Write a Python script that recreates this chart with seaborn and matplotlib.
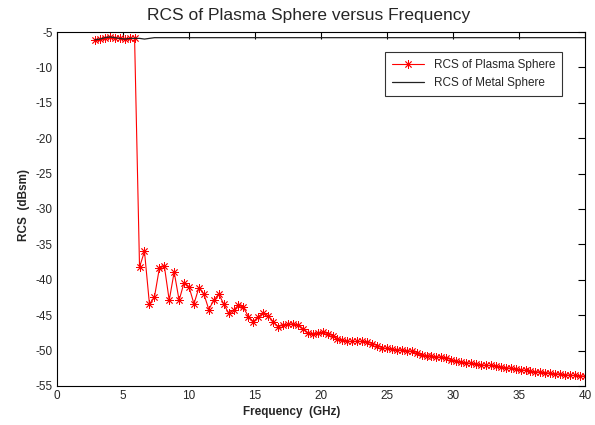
import numpy as np
import pandas as pd
import matplotlib
matplotlib.use("Agg")
import matplotlib.pyplot as plt
import seaborn as sns

# ---- data ----
frequency_ghz = np.linspace(2.9, 40.0, 100)

rcs_plasma = [
    -6.1, -6.0, -5.8, -5.7, -5.8, -5.9, -6.0, -5.9, -5.9, -38.2,
    -36.0, -43.4, -42.5, -38.4, -38.0, -42.9, -38.9, -42.9, -40.4, -41.0,
    -43.4, -41.1, -42.0, -44.2, -42.9, -42.0, -43.4, -44.7, -44.3, -43.6,
    -43.9, -45.2, -45.9, -45.2, -44.7, -45.1, -45.9, -46.6, -46.4, -46.3,
    -46.2, -46.4, -46.9, -47.5, -47.6, -47.5, -47.4, -47.6, -47.9, -48.3,
    -48.5, -48.7, -48.7, -48.7, -48.7, -48.8, -49.0, -49.3, -49.6, -49.7,
    -49.8, -49.9, -49.9, -50.0, -50.1, -50.4, -50.6, -50.7, -50.8, -50.9,
    -50.9, -51.0, -51.3, -51.5, -51.6, -51.7, -51.8, -51.9, -52.0, -52.1,
    -52.1, -52.2, -52.3, -52.4, -52.5, -52.6, -52.7, -52.8, -52.9, -53.0,
    -53.0, -53.1, -53.2, -53.3, -53.3, -53.4, -53.5, -53.5, -53.6, -53.6,
]

rcs_metal = [
    -6.1, -6.0, -5.8, -5.7, -5.8, -5.9, -6.0, -5.9, -5.9, -5.9,
    -6.0, -5.9,
] + [-5.8] * 88

series_labels = ["RCS of Plasma Sphere", "RCS of Metal Sphere"]
x_ticks = [0, 5, 10, 15, 20, 25, 30, 35, 40]
y_ticks = [-55, -50, -45, -40, -35, -30, -25, -20, -15, -10, -5]

df = pd.DataFrame({
    "freq": frequency_ghz,
    "plasma": rcs_plasma,
    "metal": rcs_metal,
})

# ---- style ----
sns.set_style("white")
plt.rcParams["font.family"] = ["Liberation Sans", "DejaVu Sans"]

fig = plt.figure(figsize=(5.95, 4.25), dpi=100)
ax = fig.add_axes([0.0953, 0.0918, 0.8877, 0.8329])

sns.lineplot(data=df, x="freq", y="plasma", ax=ax, color="red",
             linewidth=0.8, marker=(8, 2, 0), markersize=6,
             markeredgewidth=0.6, markeredgecolor="red",
             label=series_labels[0], sort=False, estimator=None)
sns.lineplot(data=df, x="freq", y="metal", ax=ax, color="#222222",
             linewidth=0.9, label=series_labels[1], sort=False,
             estimator=None)

ax.set_xlim(0, 40)
ax.set_ylim(-55, -5)
ax.set_xticks(x_ticks)
ax.set_yticks(y_ticks)
ax.set_xticklabels([str(t) for t in x_ticks])
ax.set_yticklabels([str(t) for t in y_ticks])

ax.tick_params(axis="both", which="both", direction="in", length=5,
               width=0.8, color="black", labelsize=8.5,
               top=True, right=True, pad=3)
for sp in ax.spines.values():
    sp.set_visible(True)
    sp.set_color("black")
    sp.set_linewidth(0.8)

ax.set_title("RCS of Plasma Sphere versus Frequency", fontsize=12.5, pad=8.5,
             x=0.477)
ax.set_xlabel("Frequency  (GHz)", fontsize=8.5, fontweight="bold", labelpad=3,
              x=0.445)
ax.set_ylabel("RCS  (dBsm)", fontsize=8.5, fontweight="bold", labelpad=4,
              y=0.51)

leg = ax.legend(loc="upper right", bbox_to_anchor=(0.957, 0.943),
                fontsize=8.5, frameon=True, fancybox=False,
                handlelength=2.7, borderpad=0.6, labelspacing=0.5,
                borderaxespad=0.0)
leg.get_frame().set_edgecolor("black")
leg.get_frame().set_linewidth(0.8)

fig.savefig("out.png", dpi=100, facecolor="white")
